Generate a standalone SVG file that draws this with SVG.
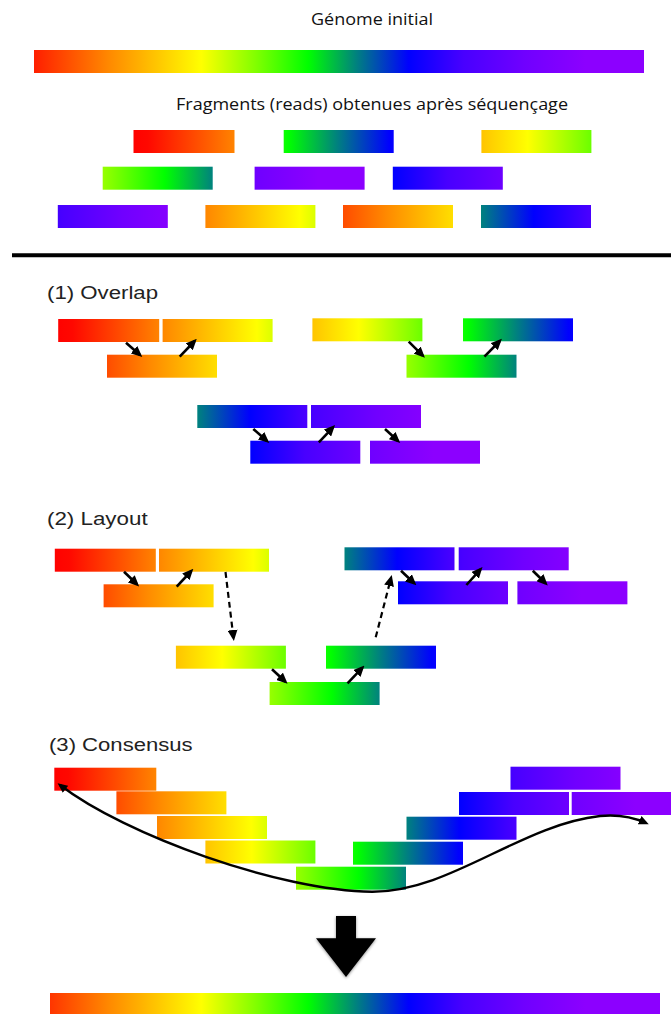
<svg xmlns="http://www.w3.org/2000/svg" xmlns:xlink="http://www.w3.org/1999/xlink" width="671" height="1014" viewBox="0 0 671 1014">
<style>
.frag{fill:url(#gen)}
.t1{font-family:"Open Sans","Liberation Sans",sans-serif;font-size:16.5px;fill:#111}
.t2{font-family:"Liberation Sans",Arial,sans-serif;font-size:17.5px;fill:#222}
.arr{stroke:#000;stroke-width:2.6;fill:none;marker-end:url(#ah)}
.dash{stroke:#000;stroke-width:2.2;fill:none;stroke-dasharray:6 4;marker-end:url(#ah)}
</style>
<defs>
<linearGradient id="gen" gradientUnits="userSpaceOnUse" x1="0" y1="0" x2="610" y2="0">
<stop offset="0" stop-color="#ff0000"/>
<stop offset="0.03" stop-color="#ff0800"/>
<stop offset="0.18" stop-color="#ff8a00"/>
<stop offset="0.33" stop-color="#ffff00"/>
<stop offset="0.42" stop-color="#80ff00"/>
<stop offset="0.505" stop-color="#00ff00"/>
<stop offset="0.585" stop-color="#008080"/>
<stop offset="0.67" stop-color="#0000ff"/>
<stop offset="0.76" stop-color="#4800ff"/>
<stop offset="0.86" stop-color="#7000ff"/>
<stop offset="0.96" stop-color="#8c00ff"/>
</linearGradient>
<marker id="ah" markerUnits="userSpaceOnUse" markerWidth="11" markerHeight="10" viewBox="0 0 11 10" refX="8" refY="5" orient="auto">
<path d="M0,0 L11,5 L0,10 z" fill="#000"/>
</marker>
<marker id="ah2" markerUnits="userSpaceOnUse" markerWidth="10" markerHeight="9" viewBox="0 0 10 9" refX="7" refY="4.5" orient="auto-start-reverse">
<path d="M0,0 L10,4.5 L0,9 z" fill="#000"/>
</marker>
<filter id="sh" x="-20%" y="-20%" width="140%" height="140%">
<feDropShadow dx="0" dy="1" stdDeviation="1.5" flood-color="#000" flood-opacity="0.45"/>
</filter>
</defs>

<text class="t1" x="311" y="25" textLength="122" lengthAdjust="spacingAndGlyphs">Génome initial</text>
<g id="genome"><rect class="frag" x="34" y="50" width="610" height="23"/></g>

<text class="t1" x="176" y="110" textLength="392" lengthAdjust="spacingAndGlyphs">Fragments (reads) obtenues après séquençage</text>

<!-- top fragments -->
<g id="top-A" transform="translate(129.5,130)"><rect class="frag" x="4" y="0" width="101" height="23"/></g>
<g id="top-F" transform="translate(-19.3,130)"><rect class="frag" x="303" y="0" width="110" height="23"/></g>
<g id="top-D" transform="translate(326.4,130)"><rect class="frag" x="155" y="0" width="110" height="23"/></g>
<g id="top-E" transform="translate(-143.3,166.7)"><rect class="frag" x="246" y="0" width="110" height="23"/></g>
<g id="top-I" transform="translate(-267.4,166.7)"><rect class="frag" x="522" y="0" width="110" height="23"/></g>
<g id="top-H" transform="translate(-16.2,166.7)"><rect class="frag" x="409" y="0" width="110" height="23"/></g>
<g id="top-J" transform="translate(-402.2,205)"><rect class="frag" x="460" y="0" width="110" height="23"/></g>
<g id="top-C" transform="translate(98.4,205)"><rect class="frag" x="107" y="0" width="110" height="23"/></g>
<g id="top-B" transform="translate(277,205)"><rect class="frag" x="66" y="0" width="110" height="23"/></g>
<g id="top-G" transform="translate(125,205)"><rect class="frag" x="356" y="0" width="110" height="23"/></g>

<line id="divider" x1="12" y1="255.3" x2="671" y2="255.3" stroke="#000" stroke-width="4"/>

<!-- (1) Overlap -->
<text class="t2" x="47" y="299" textLength="111" lengthAdjust="spacingAndGlyphs">(1) Overlap</text>
<g id="ov-A" transform="translate(54.2,319)"><rect class="frag" x="4" y="0" width="101" height="23"/></g>
<g id="ov-C" transform="translate(55.6,319)"><rect class="frag" x="107" y="0" width="110" height="23"/></g>
<g id="ov-B" transform="translate(41,354.7)"><rect class="frag" x="66" y="0" width="110" height="23"/></g>
<g id="ov-D" transform="translate(157.4,318.3)"><rect class="frag" x="155" y="0" width="110" height="23"/></g>
<g id="ov-F" transform="translate(160,318.3)"><rect class="frag" x="303" y="0" width="110" height="23"/></g>
<g id="ov-E" transform="translate(160.5,354.7)"><rect class="frag" x="246" y="0" width="110" height="23"/></g>
<g id="ov-G" transform="translate(-158.7,405)"><rect class="frag" x="356" y="0" width="110" height="23"/></g>
<g id="ov-J" transform="translate(-149,405)"><rect class="frag" x="460" y="0" width="110" height="23"/></g>
<g id="ov-H" transform="translate(-158.7,440.7)"><rect class="frag" x="409" y="0" width="110" height="23"/></g>
<g id="ov-I" transform="translate(-152,440.7)"><rect class="frag" x="522" y="0" width="110" height="23"/></g>

<!-- (2) Layout -->
<text class="t2" x="47" y="525" textLength="100.6" lengthAdjust="spacingAndGlyphs">(2) Layout</text>
<g id="ly-A" transform="translate(50.8,548.7)"><rect class="frag" x="4" y="0" width="101" height="23"/></g>
<g id="ly-C" transform="translate(52,548.7)"><rect class="frag" x="107" y="0" width="110" height="23"/></g>
<g id="ly-B" transform="translate(37.6,584.3)"><rect class="frag" x="66" y="0" width="110" height="23"/></g>
<g id="ly-D" transform="translate(20.9,645.7)"><rect class="frag" x="155" y="0" width="110" height="23"/></g>
<g id="ly-F" transform="translate(23,645.7)"><rect class="frag" x="303" y="0" width="110" height="23"/></g>
<g id="ly-E" transform="translate(23.6,682)"><rect class="frag" x="246" y="0" width="110" height="23"/></g>
<g id="ly-G" transform="translate(-11.5,547.3)"><rect class="frag" x="356" y="0" width="110" height="23"/></g>
<g id="ly-J" transform="translate(-1.3,547.3)"><rect class="frag" x="460" y="0" width="110" height="23"/></g>
<g id="ly-H" transform="translate(-11,581.3)"><rect class="frag" x="409" y="0" width="110" height="23"/></g>
<g id="ly-I" transform="translate(-4.6,581.3)"><rect class="frag" x="522" y="0" width="110" height="23"/></g>

<!-- (3) Consensus -->
<text class="t2" x="49" y="751" textLength="143.6" lengthAdjust="spacingAndGlyphs">(3) Consensus</text>
<g id="cs-A" transform="translate(50.3,767.7)"><rect class="frag" x="4" y="0" width="102" height="23"/></g>
<g id="cs-B" transform="translate(50.4,791.3)"><rect class="frag" x="66" y="0" width="110" height="23"/></g>
<g id="cs-C" transform="translate(50,816)"><rect class="frag" x="107" y="0" width="110" height="23"/></g>
<g id="cs-D" transform="translate(50.4,840.5)"><rect class="frag" x="155" y="0" width="110" height="23"/></g>
<g id="cs-E" transform="translate(50,866.7)"><rect class="frag" x="246" y="0" width="110" height="23"/></g>
<g id="cs-F" transform="translate(50,841.7)"><rect class="frag" x="303" y="0" width="110" height="23"/></g>
<g id="cs-G" transform="translate(50.5,816.7)"><rect class="frag" x="356" y="0" width="110" height="23"/></g>
<g id="cs-H" transform="translate(50,792)"><rect class="frag" x="409" y="0" width="110" height="23"/></g>
<g id="cs-I" transform="translate(49.7,792)"><rect class="frag" x="522" y="0" width="110" height="23"/></g>
<g id="cs-J" transform="translate(50.5,766.7)"><rect class="frag" x="460" y="0" width="110" height="23"/></g>

<g id="down-arrow" filter="url(#sh)"><polygon points="336,916 356,916 356,938.3 376,938.3 346,977 316,938.3 336,938.3" fill="#000"/></g>

<g id="final"><rect class="frag" x="50" y="993" width="610" height="23"/></g>

<g id="connectors">
<line class="arr" x1="126" y1="342.7" x2="140" y2="355"/>
<line class="arr" x1="179.7" y1="356.7" x2="194.7" y2="341"/>
<line class="arr" x1="408.7" y1="341.7" x2="422.8" y2="355.7"/>
<line class="arr" x1="484.4" y1="356.7" x2="499.8" y2="341"/>
<line class="arr" x1="253.3" y1="429" x2="267" y2="441"/>
<line class="arr" x1="318.8" y1="442.3" x2="333" y2="427.3"/>
<line class="arr" x1="385" y1="429" x2="398" y2="441"/>

<line class="arr" x1="124" y1="571.7" x2="137" y2="584.3"/>
<line class="arr" x1="176.7" y1="586.7" x2="191.3" y2="571"/>
<line class="arr" x1="272" y1="669.3" x2="285.4" y2="681.7"/>
<line class="arr" x1="347.5" y1="683.3" x2="362.4" y2="667.7"/>
<line class="arr" x1="401" y1="570.7" x2="414.2" y2="583.3"/>
<line class="arr" x1="466.4" y1="585" x2="480.5" y2="569.3"/>
<line class="arr" x1="532.8" y1="570.7" x2="545.6" y2="583.3"/>
<line class="dash" x1="225.5" y1="572" x2="233.5" y2="638"/>
<line class="dash" x1="375.7" y1="637.3" x2="391" y2="578"/>

<path d="M60,785 C125,835 280,891 372,891.7 C450,892 520,825 600,816 C620,814 635,818 646,823" stroke="#000" stroke-width="2.4" fill="none" marker-start="url(#ah2)" marker-end="url(#ah2)"/>
</g>
</svg>
